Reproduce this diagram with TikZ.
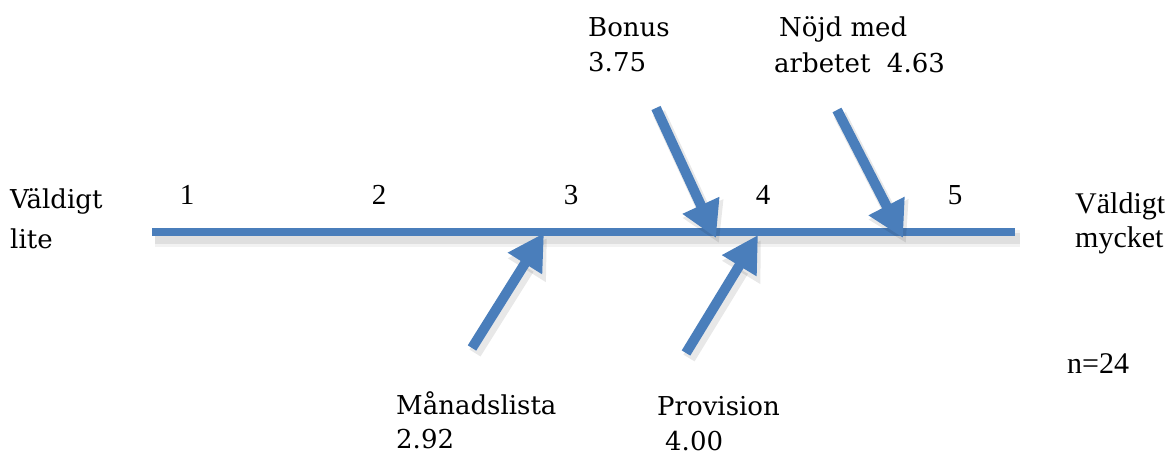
\documentclass[tikz,border=0pt]{standalone}
\usepackage{fontspec}
\newfontfamily\timesfont{LiberationSerif-Regular.ttf}
\newfontfamily\cambriafont{DejaVu Serif}
\usetikzlibrary{arrows.meta}
\definecolor{axisblue}{RGB}{74,126,187}
\begin{document}
\begin{tikzpicture}[x=1pt,y=-1pt,
  lbl/.style={anchor=base west,inner sep=0pt,font=\cambriafont\fontsize{26}{30}\selectfont},
  tlbl/.style={anchor=base west,inner sep=0pt,font=\timesfont\fontsize{30}{33}\selectfont},
  tick/.style={anchor=base,inner sep=0pt,font=\timesfont\fontsize{29}{33}\selectfont},
  axisline/.style={draw=axisblue,line width=8.5pt},
  shadeA/.style={draw=black,opacity=0.05,line width=17pt},
  shadeB/.style={draw=black,opacity=0.08,line width=11pt},
  fish/.style={draw=axisblue,line width=10pt,-{Triangle[length=36pt,width=38pt]}},
  fishshade/.style={draw=black,opacity=0.09,line width=13pt,-{Triangle[length=38pt,width=42pt]}}]
\useasboundingbox (0,0) rectangle (1175,454);
% axis
\coordinate (L) at (152,232);
\coordinate (R) at (1015,232);
\coordinate (Ls) at (155,239);
\coordinate (Rs) at (1020,239);
\draw[shadeA] (Ls) -- (Rs);
\draw[shadeB] (Ls) -- (Rs);
\draw[axisline] (L) -- (R);
% arrow coordinates
\coordinate (bs) at (656,108);  \coordinate (bt) at (716,238);
\coordinate (ns) at (837,110);  \coordinate (nt) at (903,238);
\coordinate (ms) at (472,348);  \coordinate (mt) at (544,233);
\coordinate (ps) at (686,353);  \coordinate (pt) at (758,235);
% shadows
\draw[fishshade] ([shift={(3,5)}]bs) -- ([shift={(3,5)}]bt);
\draw[fishshade] ([shift={(3,5)}]ns) -- ([shift={(3,5)}]nt);
\draw[fishshade] ([shift={(3,5)}]ms) -- ([shift={(3,5)}]mt);
\draw[fishshade] ([shift={(3,5)}]ps) -- ([shift={(3,5)}]pt);
% arrows
\draw[fish] (bs) -- (bt);
\draw[fish] (ns) -- (nt);
\draw[fish] (ms) -- (mt);
\draw[fish] (ps) -- (pt);
% scale ticks
\node[tick] (t1) at (187,205) {1};
\node[tick] (t2) at (379,205) {2};
\node[tick] (t3) at (571,205) {3};
\node[tick] (t4) at (763,205) {4};
\node[tick] (t5) at (955,205) {5};
% end labels
\node[lbl] (vl1) at (10,209) {Väldigt};
\node[lbl] (vl2) at (10,249) {lite};
\node[tlbl] (vm1) at (1075,214) {Väldigt};
\node[tlbl] (vm2) at (1075,248) {mycket};
\node[tlbl] (n) at (1067,373) {n=24};
% factor labels
\node[lbl] (b1) at (588,37) {Bonus};
\node[lbl] (b2) at (588,72) {3.75};
\node[lbl] (nj1) at (779,37) {Nöjd med};
\node[lbl] (nj2) at (774,73) {arbetet\ \ 4.63};
\node[lbl] (m1) at (396,414) {Månadslista};
\node[lbl] (m2) at (396,448) {2.92};
\node[lbl] (p1) at (657,415) {Provision};
\node[lbl] (p2) at (665,450) {4.00};
\end{tikzpicture}
\end{document}
